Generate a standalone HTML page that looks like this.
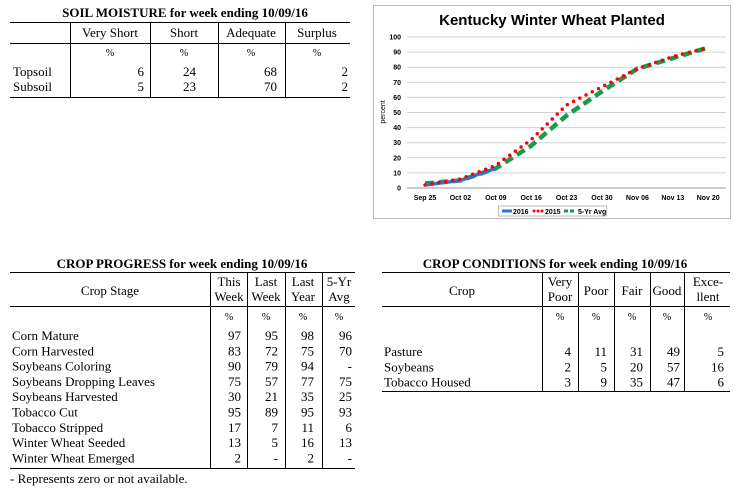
<!DOCTYPE html>
<html><head><meta charset="utf-8"><style>
body{margin:0;background:#fff;width:740px;height:493px;overflow:hidden}
svg{display:block}
.s{font-family:"Liberation Serif",serif;font-size:13px;fill:#000}
.b{font-weight:bold}
.c{font-family:"Liberation Sans",sans-serif}
</style></head><body>
<svg id="root" width="740" height="493" xmlns="http://www.w3.org/2000/svg">
<g>
<text class="s b" x="185" y="17" text-anchor="middle">SOIL MOISTURE for week ending 10/09/16</text>
<g stroke="#000" stroke-width="1">
<line x1="10" y1="22.5" x2="350" y2="22.5"/><line x1="10" y1="43.5" x2="350" y2="43.5"/><line x1="10" y1="97.5" x2="350" y2="97.5"/>
<line x1="70.5" y1="22" x2="70.5" y2="97"/><line x1="150.5" y1="22" x2="150.5" y2="97"/><line x1="218.5" y1="22" x2="218.5" y2="97"/><line x1="285.5" y1="22" x2="285.5" y2="97"/>
</g>
<g class="s" text-anchor="middle"><text x="110" y="37">Very Short</text><text x="184" y="37">Short</text><text x="251" y="37">Adequate</text><text x="317" y="37">Surplus</text>
<text x="110" y="56" font-size="10">%</text><text x="184" y="56" font-size="10">%</text><text x="251" y="56" font-size="10">%</text><text x="317" y="56" font-size="10">%</text></g>
<g class="s"><text x="13" y="76">Topsoil</text><text x="13" y="91">Subsoil</text></g>
<g class="s" text-anchor="end"><text x="144" y="76">6</text><text x="196" y="76">24</text><text x="277" y="76">68</text><text x="348" y="76">2</text>
<text x="144" y="91">5</text><text x="196" y="91">23</text><text x="277" y="91">70</text><text x="348" y="91">2</text></g>
</g>

<g id="chart">
<rect x="373.5" y="5.5" width="357" height="213" fill="#fff" stroke="#bbb"/>
<text class="c b" x="552" y="25" font-size="15" text-anchor="middle">Kentucky Winter Wheat Planted</text>
<text class="c" font-size="7" transform="translate(385,112) rotate(-90)" text-anchor="middle">percent</text>
<g id="grid"></g><g id="series"></g>
<g>
<rect x="498.5" y="206" width="108" height="10" fill="#fff" stroke="#bbb"/>
<line x1="502" y1="211" x2="512" y2="211" stroke="#2e75c8" stroke-width="3"/><text class="c b" x="513" y="214" font-size="7">2016</text>
<g fill="#f00"><circle cx="534" cy="211" r="1.5"/><circle cx="538" cy="211" r="1.5"/><circle cx="542" cy="211" r="1.5"/></g><text class="c b" x="545" y="214" font-size="7">2015</text>
<line x1="564" y1="211" x2="576" y2="211" stroke="#1a9b4a" stroke-width="3" stroke-dasharray="4,2"/><text class="c b" x="578" y="214" font-size="7">5-Yr Avg</text>
</g>
</g>

<g>
<text class="s b" x="182" y="268" text-anchor="middle">CROP PROGRESS for week ending 10/09/16</text>
<g stroke="#000"><line x1="10" y1="272.5" x2="355" y2="272.5"/><line x1="10" y1="306.5" x2="355" y2="306.5"/><line x1="10" y1="468.5" x2="355" y2="468.5"/>
<line x1="210.5" y1="272" x2="210.5" y2="468"/><line x1="247.5" y1="272" x2="247.5" y2="468"/><line x1="285.5" y1="272" x2="285.5" y2="468"/><line x1="322.5" y1="272" x2="322.5" y2="468"/></g>
<g class="s" text-anchor="middle"><text x="110" y="295">Crop Stage</text>
<text x="229" y="286">This</text><text x="229" y="301">Week</text><text x="266" y="286">Last</text><text x="266" y="301">Week</text>
<text x="303" y="286">Last</text><text x="303" y="301">Year</text><text x="339" y="286">5-Yr</text><text x="339" y="301">Avg</text>
<g font-size="10"><text x="229" y="320">%</text><text x="266" y="320">%</text><text x="303" y="320">%</text><text x="339" y="320">%</text></g></g>
<g id="cp"></g>
<text class="s" x="10" y="483">- Represents zero or not available.</text>
</g>

<g>
<text class="s b" x="555" y="268" text-anchor="middle">CROP CONDITIONS for week ending 10/09/16</text>
<g stroke="#000"><line x1="382" y1="272.5" x2="730" y2="272.5"/><line x1="382" y1="306.5" x2="730" y2="306.5"/><line x1="382" y1="391.5" x2="730" y2="391.5"/>
<line x1="542.5" y1="272" x2="542.5" y2="391"/><line x1="578.5" y1="272" x2="578.5" y2="391"/><line x1="614.5" y1="272" x2="614.5" y2="391"/><line x1="650.5" y1="272" x2="650.5" y2="391"/><line x1="684.5" y1="272" x2="684.5" y2="391"/></g>
<g class="s" text-anchor="middle"><text x="462" y="295">Crop</text>
<text x="560" y="286">Very</text><text x="560" y="301">Poor</text><text x="596" y="295">Poor</text><text x="632" y="295">Fair</text><text x="667" y="295">Good</text>
<text x="708" y="286">Exce-</text><text x="708" y="301">llent</text>
<g font-size="10"><text x="560" y="320">%</text><text x="596" y="320">%</text><text x="632" y="320">%</text><text x="667" y="320">%</text><text x="708" y="320">%</text></g></g>
<g id="cc"></g>
</g>
</svg>
<script>
const NS="http://www.w3.org/2000/svg";
const weeks=["Sep 25","Oct 02","Oct 09","Oct 16","Oct 23","Oct 30","Nov 06","Nov 13","Nov 20"];
const yTicks=[0,10,20,30,40,50,60,70,80,90,100];
const s2016=[2,5,13];
const s2015=[2,6,15,32,55,67,79,87,93];
const sAvg=[3,5,13,28,48,64,79,86,93];
const x=i=>425+i*35.4, y=v=>188-v*1.51;
function mk(t,a,p){const e=document.createElementNS(NS,t);for(const k in a)e.setAttribute(k,a[k]);p.appendChild(e);return e;}
const g=document.getElementById('grid');
yTicks.forEach(v=>{
 const l=mk('line',{x1:407,x2:726,y1:y(v),y2:y(v),stroke:v==0?'#999':'#d0d0d0','stroke-width':1},g);
 
 
 const t=mk('text',{x:401,y:y(v)+2.5,'text-anchor':'end','font-size':7,'font-weight':'bold','font-family':'Liberation Sans,sans-serif'},g);t.textContent=v;
 
 
});
weeks.forEach((w,i)=>{
 const t=mk('text',{x:x(i),y:200,'text-anchor':'middle','font-size':7,'font-weight':'bold','font-family':'Liberation Sans,sans-serif'},g);t.textContent=w;
 
 
});
const sg=document.getElementById('series');
function pts(a){return a.map((v,i)=>x(i)+','+y(v)).join(' ');}
const pa=mk('polyline',{points:pts(sAvg),fill:'none',stroke:'#1a9b4a','stroke-width':4.5,'stroke-dasharray':'9,5'},sg);


const p6=mk('polyline',{points:pts(s2016),fill:'none',stroke:'#2e75c8','stroke-width':3.5},sg);


const p5=mk('polyline',{points:pts(s2015),fill:'none',stroke:'#f00','stroke-width':3.5,'stroke-dasharray':'0,7','stroke-linecap':'round'},sg);



const cpRows=[["Corn Mature","97","95","98","96"],["Corn Harvested","83","72","75","70"],["Soybeans Coloring","90","79","94","-"],["Soybeans Dropping Leaves","75","57","77","75"],["Soybeans Harvested","30","21","35","25"],["Tobacco Cut","95","89","95","93"],["Tobacco Stripped","17","7","11","6"],["Winter Wheat Seeded","13","5","16","13"],["Winter Wheat Emerged","2","-","2","-"]];
const cp=document.getElementById('cp'),cpX=[241,278,314,352];
cpRows.forEach((r,i)=>{const yy=340+i*15.3;
 const t=mk('text',{x:12,y:yy,class:'s'},cp);t.textContent=r[0];
 
 
 for(let j=1;j<5;j++){const v=mk('text',{x:cpX[j-1],y:yy,class:'s','text-anchor':'end'},cp);v.textContent=r[j];}
});
const ccRows=[["Pasture","4","11","31","49","5"],["Soybeans","2","5","20","57","16"],["Tobacco Housed","3","9","35","47","6"]];
const cc=document.getElementById('cc'),ccX=[571,607,643,680,724];
ccRows.forEach((r,i)=>{const yy=356+i*15.3;
 const t=mk('text',{x:384,y:yy,class:'s'},cc);t.textContent=r[0];
 
 
 for(let j=1;j<6;j++){const v=mk('text',{x:ccX[j-1],y:yy,class:'s','text-anchor':'end'},cc);v.textContent=r[j];}
});
</script>
</body></html>
